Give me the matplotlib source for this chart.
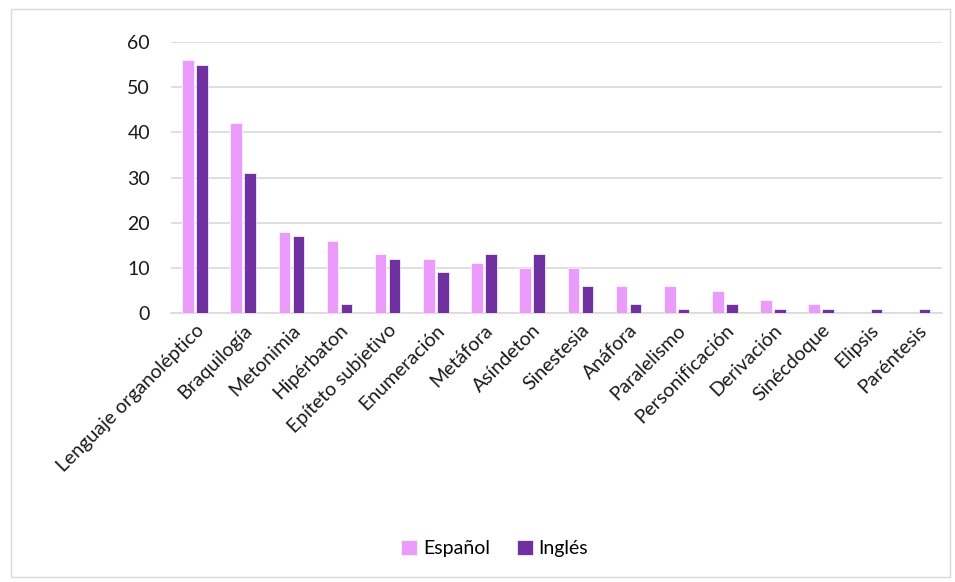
import matplotlib.pyplot as plt
import numpy as np
from matplotlib.patches import Rectangle

plt.rcParams['font.family'] = ['Lato', 'DejaVu Sans']

categories = ['Lenguaje organoléptico', 'Braquilogía', 'Metonimia', 'Hipérbaton',
              'Epíteto subjetivo', 'Enumeración', 'Metáfora', 'Asíndeton',
              'Sinestesia', 'Anáfora', 'Paralelismo', 'Personificación',
              'Derivación', 'Sinécdoque', 'Elipsis', 'Paréntesis']
espanol = [56, 42, 18, 16, 13, 12, 11, 10, 10, 6, 6, 5, 3, 2, 0, 0]
ingles = [55, 31, 17, 2, 12, 9, 13, 13, 6, 2, 1, 2, 1, 1, 1, 1]

fig = plt.figure(figsize=(9.55, 5.82), dpi=100)
ax = fig.add_axes([0.179, 0.462, 0.807, 0.466])

x = np.arange(len(categories))
w = 0.24
ax.bar(x - 0.145, espanol, w, color='#EA9BFB', edgecolor='white', linewidth=0.5, label='Español', zorder=3)
ax.bar(x + 0.145, ingles, w, color='#7030A0', edgecolor='white', linewidth=0.5, label='Inglés', zorder=3)

ax.set_xlim(-0.5, len(categories) - 0.5)
ax.set_ylim(0, 60)
ax.set_yticks(range(0, 61, 10))
ax.yaxis.grid(True, color='#D9D9D9', linewidth=1.2, zorder=0)
for s in ['top', 'right', 'left']:
    ax.spines[s].set_visible(False)
ax.spines['bottom'].set_color('#D9D9D9')
ax.spines['bottom'].set_linewidth(1.2)
ax.tick_params(length=0, labelsize=14, colors='#1a1a1a')
ax.tick_params(axis='y', pad=15)
ax.set_xticks(x)
ax.set_xticklabels(categories, rotation=45, ha='right', rotation_mode='anchor')
ax.tick_params(axis='x', pad=6)

fig.legend(loc='center', bbox_to_anchor=(0.518, 0.057), ncol=2, frameon=False,
           fontsize=14, handlelength=0.8, handleheight=0.8, handletextpad=0.3,
           columnspacing=1.4)

fig.patches.append(Rectangle((0.011, 0.009), 0.984, 0.975, transform=fig.transFigure,
                             fill=False, edgecolor='#D9D9D9', linewidth=1))

fig.savefig('out.png', dpi=100)
